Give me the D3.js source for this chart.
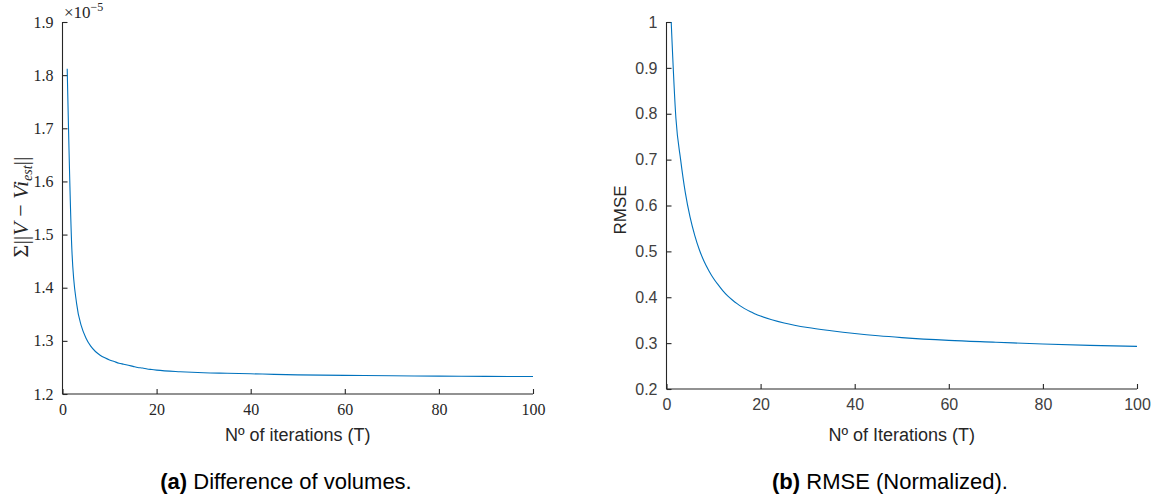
<!DOCTYPE html>
<html>
<head>
<meta charset="utf-8">
<script src="https://cdn.jsdelivr.net/npm/d3@7"></script>
<style>
  html, body { margin: 0; padding: 0; background: #fff; }
  svg { display: block; }
</style>
</head>
<body>
<svg id="chart" width="1159" height="502"></svg>
<script>
// ---- data ----
const iterations = [1,2,3,4,5,6,7,8,9,10,11,12,13,14,15,16,17,18,19,20,25,30,35,40,45,50,60,70,80,90,100];
// Difference of volumes, in units of 1e-5
const volDiff = [1.812,1.47,1.37,1.328,1.305,1.29,1.28,1.273,1.268,1.264,1.261,1.258,1.256,1.254,1.252,1.250,1.249,1.247,1.246,1.245,1.242,1.240,1.239,1.238,1.237,1.236,1.235,1.2343,1.2337,1.2332,1.2328];
// Normalized RMSE
const rmse = [1.0,0.79,0.70,0.628,0.575,0.535,0.503,0.478,0.458,0.441,0.427,0.414,0.403,0.394,0.386,0.379,0.373,0.368,0.363,0.359,0.344,0.334,0.327,0.321,0.316,0.312,0.306,0.302,0.298,0.295,0.293];
const xTicks = [0,20,40,60,80,100];
const volTicks = [1.2,1.3,1.4,1.5,1.6,1.7,1.8,1.9];
const rmseTicks = [0.2,0.3,0.4,0.5,0.6,0.7,0.8,0.9,1];

const svg = d3.select("#chart");
const axisColor = "#262626";
const lineColor = "#0072BD";

function panel(opts) {
  const g = svg.append("g");
  const x = d3.scaleLinear().domain([0,100]).range([opts.left, opts.right]);
  const y = d3.scaleLinear().domain(opts.yDomain).range([opts.bottom, opts.top]);

  const xAxis = d3.axisBottom(x).tickValues(xTicks).tickSize(-5).tickPadding(10)
    .tickFormat(d3.format("d"));
  const yAxis = d3.axisLeft(y).tickValues(opts.yTicks).tickSize(-5).tickPadding(9)
    .tickFormat(opts.yFmt);

  const gx = g.append("g").attr("transform", `translate(0,${opts.bottom})`).call(xAxis);
  const gy = g.append("g").attr("transform", `translate(${opts.left},0)`).call(yAxis);
  [gx, gy].forEach(a => {
    a.select(".domain").attr("stroke", axisColor).attr("stroke-width", 1.1);
    a.selectAll(".tick line").attr("stroke", axisColor).attr("stroke-width", 1.1);
    a.selectAll(".tick text").attr("fill", opts.tickColor)
      .style("font-family", opts.tickFont).style("font-size", opts.tickSize + "px");
  });
  gx.select(".domain").attr("d", `M${opts.left},0H${opts.right}`);
  gy.select(".domain").attr("d", `M0,${opts.bottom}V${opts.top}`);

  const line = d3.line().x((d,i) => x(iterations[i])).y(d => y(d)).curve(d3.curveMonotoneX);
  g.append("path").datum(opts.values).attr("d", line)
    .attr("fill", "none").attr("stroke", lineColor).attr("stroke-width", 1.1);

  g.append("text").attr("x", (opts.left + opts.right) / 2).attr("y", 441)
    .attr("text-anchor", "middle").attr("fill", "#262626")
    .style("font-family", "'Liberation Sans', Arial, sans-serif").style("font-size", "18px")
    .text(opts.xLabel);
  return {g, x, y};
}

const serif = "'Liberation Serif', 'Times New Roman', serif";
const sans = "'Liberation Sans', Arial, sans-serif";

const p1 = panel({
  left: 62.5, right: 533, top: 22, bottom: 394,
  yDomain: [1.2, 1.9], yTicks: volTicks, yFmt: d3.format(".1f"),
  tickFont: serif, tickSize: 16, tickColor: "#262626",
  values: volDiff, xLabel: "Nº of iterations (T)"
});

// exponent label
const ex = svg.append("text").attr("x", 64).attr("y", 18)
  .attr("fill", "#262626").style("font-family", serif).style("font-size", "17px");
ex.append("tspan").text("×10");
ex.append("tspan").attr("dy", -7).style("font-size", "12px").text("−5");

// left y label (math)
const yl = svg.append("text")
  .attr("transform", "translate(28,207) rotate(-90)")
  .attr("text-anchor", "middle").attr("fill", "#262626")
  .style("font-family", serif).style("font-size", "22px");
yl.append("tspan").text("Σ||");
yl.append("tspan").style("font-style", "italic").text("V");
yl.append("tspan").text(" − ");
yl.append("tspan").style("font-style", "italic").text("Vi");
yl.append("tspan").attr("dy", 4).style("font-style", "italic").style("font-size", "14px").text("est");
yl.append("tspan").attr("dy", -4).text("||");

const p2 = panel({
  left: 666.5, right: 1137, top: 22, bottom: 389,
  yDomain: [0.2, 1.0], yTicks: rmseTicks, yFmt: d => d === 1 ? "1" : d3.format(".1f")(d),
  tickFont: sans, tickSize: 16, tickColor: "#404040",
  values: rmse, xLabel: "Nº of Iterations (T)"
});

svg.append("text")
  .attr("transform", "translate(626,210) rotate(-90)")
  .attr("text-anchor", "middle").attr("fill", "#262626")
  .style("font-family", sans).style("font-size", "17px")
  .text("RMSE");

// captions
function caption(cx, bold, rest) {
  const t = svg.append("text").attr("x", cx).attr("y", 489).attr("text-anchor", "middle")
    .attr("fill", "#000").style("font-family", sans).style("font-size", "22px");
  t.append("tspan").style("font-weight", "bold").text(bold);
  t.append("tspan").text(rest);
}
caption(286, "(a)", " Difference of volumes.");
caption(890, "(b)", " RMSE (Normalized).");
</script>
</body>
</html>
